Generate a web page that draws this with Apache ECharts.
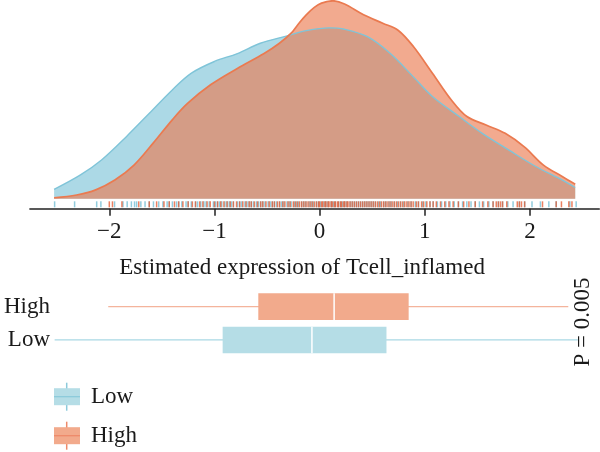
<!DOCTYPE html>
<html>
<head>
<meta charset="utf-8">
<script src="https://cdn.jsdelivr.net/npm/echarts@6/dist/echarts.min.js"></script>
<style>html,body{margin:0;padding:0;background:#fff}#c{width:600px;height:452px}</style>
</head>
<body>
<div id="c"></div>
<script>
// ---------- data ----------
const xTickValues = [-2, -1, 0, 1, 2];
const xTickLabels = ['\u22122', '\u22121', '0', '1', '2'];
const xTitle = 'Estimated expression of Tcell_inflamed';
const boxCategories = ['Low', 'High'];
const legendLabels = ['Low', 'High'];
const pLabel = 'P = 0.005';

// density curves (x value, density)
const lowDensX = [-2.525,-2.274,-2.074,-1.838,-1.619,-1.401,-1.219,-1.0,-0.782,-0.564,-0.309,-0.127,0.091,0.237,0.455,0.673,0.892,1.073,1.328,1.547,1.801,2.056,2.274,2.431];
const lowDensY = [0.020,0.051,0.083,0.133,0.183,0.233,0.269,0.294,0.311,0.333,0.349,0.360,0.366,0.363,0.347,0.311,0.261,0.219,0.176,0.140,0.104,0.069,0.044,0.024];
const highDensX = [-2.525,-2.311,-2.129,-1.947,-1.765,-1.583,-1.401,-1.256,-1.037,-0.782,-0.528,-0.382,-0.273,-0.200,-0.127,-0.050,0.018,0.127,0.237,0.418,0.600,0.746,0.892,1.073,1.255,1.401,1.583,1.765,1.947,2.129,2.311,2.431];
const highDensY = [0.002,0.008,0.019,0.040,0.072,0.119,0.169,0.204,0.244,0.279,0.311,0.333,0.354,0.375,0.394,0.410,0.419,0.424,0.417,0.394,0.376,0.361,0.326,0.269,0.211,0.176,0.158,0.140,0.111,0.072,0.047,0.031];

// rug samples
const lowRug = [-2.52,-2.33,-2.12,-2.08,-1.95,-1.87,-1.83,-1.79,-1.76,-1.74,-1.70,-1.66,-1.62,-1.58,-1.53,-1.49,-1.45,-1.43,-1.40,-1.36,-1.34,-1.31,-1.27,-1.25,-1.22,-1.18,-1.16,-1.13,-1.10,-1.08,-1.05,-1.01,-0.99,-0.97,-0.95,-0.93,-0.90,-0.88,-0.86,-0.84,-0.82,-0.78,-0.76,-0.74,-0.71,-0.69,-0.67,-0.65,-0.63,-0.60,-0.58,-0.56,-0.54,-0.52,-0.49,-0.47,-0.45,-0.43,-0.41,-0.38,-0.36,-0.34,-0.31,-0.29,-0.27,-0.24,-0.22,-0.20,-0.17,-0.15,-0.13,-0.10,-0.08,-0.06,-0.03,-0.01,0.01,0.04,0.06,0.08,0.11,0.13,0.15,0.18,0.20,0.22,0.24,0.26,0.29,0.31,0.33,0.35,0.37,0.39,0.41,0.43,0.45,0.47,0.49,0.51,0.53,0.56,0.58,0.61,0.63,0.66,0.68,0.71,0.74,0.77,0.80,0.84,0.87,0.91,0.94,0.98,1.01,1.05,1.08,1.12,1.16,1.20,1.24,1.28,1.32,1.36,1.40,1.44,1.48,1.52,1.56,1.61,1.65,1.70,1.74,1.79,1.84,1.90,1.95,2.02,2.10,2.18,2.25,2.38,2.44];
const highRug = [-2.00,-1.97,-1.88,-1.72,-1.62,-1.55,-1.48,-1.43,-1.38,-1.34,-1.30,-1.25,-1.21,-1.18,-1.14,-1.11,-1.07,-1.04,-1.00,-0.97,-0.94,-0.91,-0.88,-0.85,-0.82,-0.79,-0.76,-0.73,-0.70,-0.67,-0.65,-0.62,-0.59,-0.56,-0.54,-0.51,-0.48,-0.45,-0.43,-0.40,-0.38,-0.35,-0.33,-0.30,-0.28,-0.25,-0.23,-0.21,-0.19,-0.17,-0.15,-0.13,-0.11,-0.09,-0.07,-0.05,-0.03,-0.01,0.00,0.02,0.03,0.05,0.06,0.08,0.09,0.11,0.12,0.14,0.15,0.17,0.18,0.20,0.21,0.23,0.24,0.26,0.27,0.29,0.31,0.33,0.35,0.37,0.39,0.41,0.43,0.45,0.47,0.49,0.51,0.53,0.55,0.57,0.59,0.61,0.63,0.65,0.67,0.69,0.71,0.73,0.75,0.77,0.79,0.81,0.83,0.85,0.87,0.89,0.92,0.94,0.97,0.99,1.02,1.05,1.08,1.11,1.15,1.19,1.23,1.27,1.32,1.37,1.42,1.48,1.55,1.60,1.65,1.68,1.70,1.72,1.74,1.78,1.88,1.90,1.92,1.95,2.12,2.25,2.30,2.37,2.40];

// box statistics [min, q1, median, q3, max]
const lowBox = [-2.52, -0.922, -0.073, 0.636, 2.456];
const highBox = [-2.01, -0.583, 0.138, 0.847, 2.365];

// ---------- layout / style ----------
const FONT = 'Liberation Serif';
const FS = 23;
const TXT = '#1a1a1a';
const BLUE = '#7FC4D8', ORANGE = '#EA7A50';
const BLUE_BOX = '#B5DDE6', ORANGE_BOX = '#F2AA8C';
const PX0 = 319.6, PXU = 105.15;           // pixel of value 0, pixels per unit
const G0L = 29.9, G0R = 599.3, G1L = 54;
const toVal = p => (p - PX0) / PXU;
const RUG_Y = -0.0120;

const chart = echarts.init(document.getElementById('c'), null, {renderer: 'canvas'});

function boxItem(params, api) {
  const cat = api.value(0);
  const vals = [api.value(1), api.value(2), api.value(3), api.value(4), api.value(5)];
  const p = vals.map(v => api.coord([v, cat]));
  const band = api.size([0, 1])[1];
  const h = band * 0.8;
  const y = p[0][1];
  const isHigh = boxCategories[cat] === 'High';
  const fill = isHigh ? ORANGE_BOX : BLUE_BOX;
  const wcol = isHigh ? '#F4B49C' : '#A9D8E4';
  return {
    type: 'group',
    children: [
      {type: 'line', shape: {x1: p[0][0], y1: y, x2: p[4][0], y2: y}, style: {stroke: wcol, lineWidth: 1.3}},
      {type: 'rect', shape: {x: p[1][0], y: y - h / 2, width: p[3][0] - p[1][0], height: h}, style: {fill: fill}},
      {type: 'line', shape: {x1: p[2][0], y1: y - h / 2, x2: p[2][0], y2: y + h / 2}, style: {stroke: '#ffffff', lineWidth: 1.5}}
    ]
  };
}

function legendItem(y0, fill, col, label) {
  return [
    {type: 'line', shape: {x1: 66.7, y1: y0 - 14, x2: 66.7, y2: y0 + 14}, style: {stroke: col, lineWidth: 1.5}},
    {type: 'rect', shape: {x: 54, y: y0 - 8.5, width: 26, height: 17}, style: {fill: fill}},
    {type: 'line', shape: {x1: 54, y1: y0, x2: 80, y2: y0}, style: {stroke: col, lineWidth: 1.3}},
    {type: 'text', x: 91, y: y0, style: {text: label, font: FS + 'px "' + FONT + '"', fill: TXT, verticalAlign: 'middle'}}
  ];
}

const option = {
  animation: false,
  backgroundColor: '#ffffff',
  textStyle: {fontFamily: FONT},
  grid: [
    {left: G0L, right: 600 - G0R, top: 0, bottom: 452 - 208.7},
    {left: G1L, right: 600 - G0R, top: 290, bottom: 452 - 356.6}
  ],
  xAxis: [
    {
      gridIndex: 0, type: 'value', min: toVal(G0L), max: toVal(G0R),
      splitLine: {show: false},
      axisLine: {show: true, onZero: false, lineStyle: {color: '#222', width: 1.5}},
      axisTick: {show: true, customValues: xTickValues, length: 7, lineStyle: {color: '#222', width: 1.5}},
      axisLabel: {
        customValues: xTickValues, margin: 12, fontSize: FS, fontFamily: FONT, color: TXT,
        formatter: v => xTickLabels[xTickValues.indexOf(Math.round(v))] ?? ''
      },
      name: xTitle, nameLocation: 'middle', nameGap: 48,
      nameTextStyle: {fontSize: FS, fontFamily: FONT, color: TXT, padding: [0, 25, 0, 0]}
    },
    {
      gridIndex: 1, type: 'value', min: toVal(G1L), max: toVal(G0R),
      show: false, splitLine: {show: false}
    }
  ],
  yAxis: [
    {gridIndex: 0, type: 'value', min: -0.0214, max: 0.4257, show: false, splitLine: {show: false}},
    {
      gridIndex: 1, type: 'category', data: boxCategories,
      axisLine: {show: false}, axisTick: {show: false},
      axisLabel: {fontSize: FS, fontFamily: FONT, color: TXT, margin: 4}
    }
  ],
  series: [
    {
      name: 'Low', type: 'line', xAxisIndex: 0, yAxisIndex: 0, smooth: 0.35, symbol: 'none',
      data: lowDensX.map((x, i) => [x, lowDensY[i]]),
      lineStyle: {color: BLUE, width: 1.4},
      areaStyle: {color: BLUE, opacity: 0.65}
    },
    {
      name: 'High', type: 'line', xAxisIndex: 0, yAxisIndex: 0, smooth: 0.35, symbol: 'none',
      data: highDensX.map((x, i) => [x, highDensY[i]]),
      lineStyle: {color: ORANGE, width: 1.7},
      areaStyle: {color: ORANGE, opacity: 0.64}
    },
    {
      type: 'scatter', xAxisIndex: 0, yAxisIndex: 0, symbol: 'rect', symbolSize: [1.5, 6],
      data: lowRug.map(v => [v, RUG_Y]), itemStyle: {color: '#76BFD4', opacity: 0.8}, silent: true
    },
    {
      type: 'scatter', xAxisIndex: 0, yAxisIndex: 0, symbol: 'rect', symbolSize: [1.5, 6],
      data: highRug.map(v => [v, RUG_Y]), itemStyle: {color: '#E4572E', opacity: 0.75}, silent: true
    },
    {
      type: 'custom', xAxisIndex: 1, yAxisIndex: 1,
      renderItem: boxItem,
      encode: {x: [1, 2, 3, 4, 5], y: 0},
      data: [[0].concat(lowBox), [1].concat(highBox)]
    }
  ],
  graphic: [
    {type: 'text', x: 583, y: 322, rotation: Math.PI / 2,
     style: {text: pLabel, font: FS + 'px "' + FONT + '"', fill: TXT, align: 'center', verticalAlign: 'middle'}}
  ].concat(legendItem(396.7, BLUE_BOX, '#8CCADB', legendLabels[0]))
   .concat(legendItem(435.7, ORANGE_BOX, '#EE8A6A', legendLabels[1]))
};
chart.setOption(option);
</script>
</body>
</html>
